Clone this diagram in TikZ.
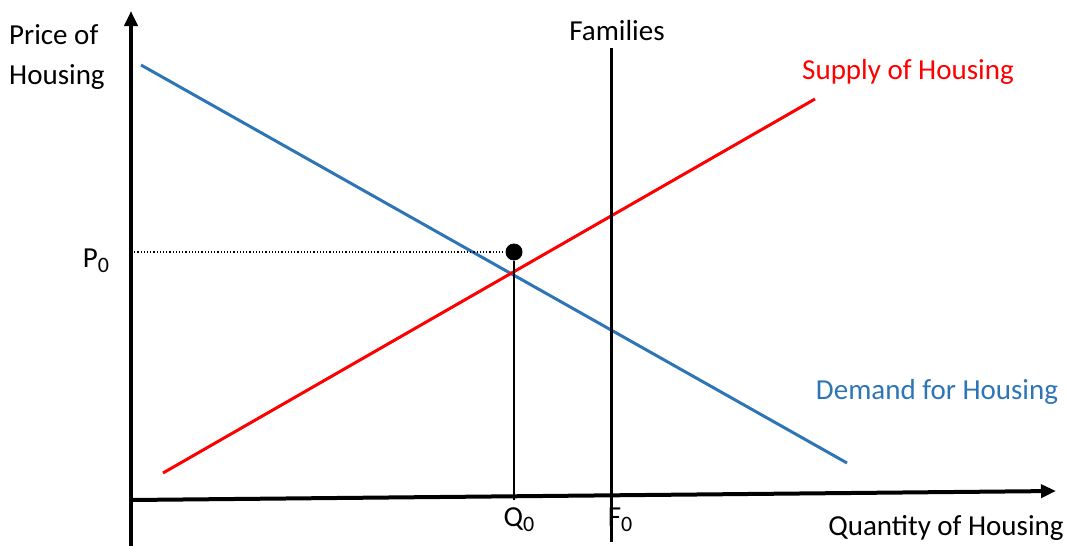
\documentclass[tikz,border=0pt]{standalone}
\usepackage{fontspec}
\setmainfont{Carlito}
\usetikzlibrary{arrows.meta}
\definecolor{dblue}{RGB}{46,117,182}
\definecolor{sred}{RGB}{255,0,0}
\newcommand{\sbz}{\raisebox{-0.18em}{\fontsize{22}{24}\selectfont 0}}
\tikzset{
  axis/.style={line width=4pt,-{Triangle[length=15pt,width=13pt]}},
  curve/.style={line width=3pt},
  lbl/.style={font=\fontsize{29}{40}\selectfont, inner sep=0pt},
}
\begin{document}
\begin{tikzpicture}[x=1pt,y=-1pt]
\useasboundingbox (0,0) rectangle (1071,546);
% axes
\coordinate (yb) at (131,546);
\coordinate (yt) at (131,11);
\coordinate (xl) at (131,500);
\coordinate (xr) at (1056,491);
\draw[axis] (yb) -- (yt);
\draw[axis] (xl) -- (xr);
% curves
\coordinate (d1) at (141,65);
\coordinate (d2) at (847,463);
\coordinate (s1) at (163,473);
\coordinate (s2) at (815,99);
\draw[curve,dblue] (d1) -- (d2);
\draw[curve,sred] (s1) -- (s2);
% families
\coordinate (f1) at (611,48);
\coordinate (f2) at (611,542);
\draw[line width=3pt] (f1) -- (f2);
% equilibrium
\node[circle,fill=black,minimum size=17pt,inner sep=0pt] (dot) at (514,252) {};
\coordinate (p0a) at (131,252);
\coordinate (q0b) at (514,500);
\draw[line width=1.2pt,dotted] (p0a) -- (dot.west);
\draw[line width=1.5pt] (dot.south) -- (q0b);
% labels
\node[lbl,anchor=west,align=left] (pl) at (9,57) {Price of\\Housing};
\node[lbl] (p0) at (96,261) {P\sbz};
\node[lbl] (fam) at (617,31) {Families};
\node[lbl,text=sred] (sup) at (908,72) {Supply of Housing};
\node[lbl,text=dblue] (dem) at (937,392) {Demand for Housing};
\node[lbl] (q0) at (519,520) {Q\sbz};
\node[lbl] (f0) at (620,520) {F\sbz};
\node[lbl] (qh) at (946,528) {Quantity of Housing};
\end{tikzpicture}
\end{document}
